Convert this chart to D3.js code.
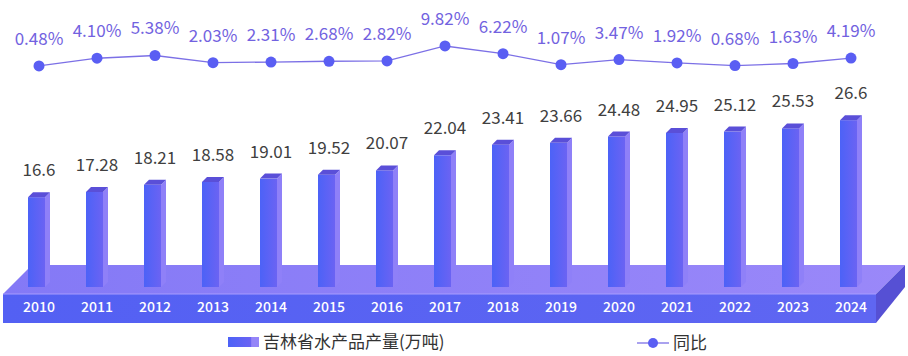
<!DOCTYPE html>
<html><head><meta charset="utf-8">
<script src="https://cdn.jsdelivr.net/npm/d3@7"></script>
<style>
html,body{margin:0;padding:0;background:#fff;}
svg{display:block;font-family:"Noto Sans CJK SC","Noto Sans",sans-serif;}
</style></head>
<body><svg id="c" width="908" height="356"></svg>
<script>
const years = ["2010","2011","2012","2013","2014","2015","2016","2017","2018","2019","2020","2021","2022","2023","2024"];
const output = [16.6,17.28,18.21,18.58,19.01,19.52,20.07,22.04,23.41,23.66,24.48,24.95,25.12,25.53,26.6];
const yoy = [0.48,4.10,5.38,2.03,2.31,2.68,2.82,9.82,6.22,1.07,3.47,1.92,0.68,1.63,4.19];
const seriesNames = ["吉林省水产品产量(万吨)","同比"];

const svg = d3.select("#c");
const defs = svg.append("defs");
const gFront = defs.append("linearGradient").attr("id","gf").attr("x1",0).attr("x2",1).attr("y1",0).attr("y2",0);
gFront.append("stop").attr("offset","0%").attr("stop-color","#4c62f7");
gFront.append("stop").attr("offset","100%").attr("stop-color","#6b63f3");
const gTopP = defs.append("linearGradient").attr("id","gtp").attr("x1",0).attr("x2",1).attr("y1",0).attr("y2",0);
gTopP.append("stop").attr("offset","0%").attr("stop-color","#8479f6");
gTopP.append("stop").attr("offset","100%").attr("stop-color","#9a88f9");
const gFrontP = defs.append("linearGradient").attr("id","gfp").attr("x1",0).attr("x2",1).attr("y1",0).attr("y2",0);
gFrontP.append("stop").attr("offset","0%").attr("stop-color","#5360f3");
gFrontP.append("stop").attr("offset","100%").attr("stop-color","#5f66f2");
const gLeg = defs.append("linearGradient").attr("id","gl").attr("x1",0).attr("x2",1).attr("y1",0).attr("y2",0);
gLeg.append("stop").attr("offset","0%").attr("stop-color","#4c62f7");
gLeg.append("stop").attr("offset","75%").attr("stop-color","#6b63f3");
gLeg.append("stop").attr("offset","76%").attr("stop-color","#9585f8");
gLeg.append("stop").attr("offset","100%").attr("stop-color","#9585f8");

const x = d3.scaleBand().domain(years).range([10, 880]).padding(0);
const bw = x.bandwidth();
const cx = d => x(d) + bw/2;
const y = d3.scaleLinear().domain([0, 30]).range([325, 94]);
const y2 = d3.scaleLinear().domain([0, 10]).range([67, 45.6]);

// platform
const pl = {l:3, r:876, top:294, bot:323, back:265, dx:29};
svg.append("polygon").attr("points",[[pl.l,pl.top],[pl.r,pl.top],[pl.r+pl.dx,pl.back],[pl.l+pl.dx,pl.back]].join(" ")).attr("fill","url(#gtp)");
svg.append("rect").attr("x",pl.l).attr("y",pl.top).attr("width",pl.r-pl.l).attr("height",pl.bot-pl.top).attr("fill","url(#gfp)");
svg.append("polygon").attr("points",[[pl.r,pl.top],[pl.r+pl.dx,pl.back],[pl.r+pl.dx,pl.back+22],[pl.r,pl.bot]].join(" ")).attr("fill","#5650d4");
svg.append("line").attr("x1",pl.l).attr("x2",pl.r).attr("y1",pl.top).attr("y2",pl.top).attr("stroke","#a79cff").attr("stroke-width",1);

// bars
const base = 287, fw = 17, sw = 5, dy = 5;
const bars = svg.append("g").selectAll("g").data(years).join("g");
bars.append("rect").attr("x",d=>cx(d)-11).attr("width",fw)
  .attr("y",(d,i)=>y(output[i])).attr("height",(d,i)=>base - y(output[i])).attr("fill","url(#gf)");
bars.append("polygon").attr("points",(d,i)=>{const L=cx(d)-11+fw, t=y(output[i]);
  return [[L,t],[L+sw,t-dy],[L+sw,base-dy],[L,base]].join(" ");}).attr("fill","#8f80f8");
bars.append("polygon").attr("points",(d,i)=>{const L=cx(d)-11, t=y(output[i]);
  return [[L,t],[L+fw,t],[L+fw+sw,t-dy],[L+sw,t-dy]].join(" ");}).attr("fill","#5a4fd8");
bars.append("text").attr("x",d=>cx(d)).attr("y",(d,i)=>y(output[i])-21)
  .attr("text-anchor","middle").attr("font-size",17).attr("fill","#404040").text((d,i)=>output[i]);

// x axis labels
const xAxis = d3.axisBottom(x).tickSize(0).tickPadding(0);
const ax = svg.append("g").attr("transform","translate(0,302)").call(xAxis);
ax.select(".domain").remove();
ax.selectAll("text").attr("fill","#fff").attr("font-size",14).attr("font-weight",500)
  .attr("font-family","'Noto Sans CJK SC','Noto Sans',sans-serif");

// line
const line = d3.line().x((d,i)=>cx(years[i])).y(d=>y2(d));
svg.append("path").datum(yoy).attr("d",line).attr("fill","none").attr("stroke","#7c70e6").attr("stroke-width",1.3);
svg.append("g").selectAll("circle").data(yoy).join("circle")
  .attr("cx",(d,i)=>cx(years[i])).attr("cy",d=>y2(d)).attr("r",5.5).attr("fill","#5a5ef3");
svg.append("g").selectAll("text").data(yoy).join("text")
  .attr("x",(d,i)=>cx(years[i])).attr("y",d=>y2(d)-21).attr("text-anchor","middle")
  .attr("font-size",17).attr("fill","#7262e0").text(d=>d.toFixed(2)+"%");

// legend
svg.append("rect").attr("x",228).attr("y",337).attr("width",31).attr("height",10).attr("fill","url(#gl)");
svg.append("text").attr("x",263).attr("y",348).attr("font-size",17).attr("fill","#333").text(seriesNames[0]);
svg.append("line").attr("x1",637).attr("x2",669).attr("y1",343).attr("y2",343).attr("stroke","#7c70e6").attr("stroke-width",1.3);
svg.append("circle").attr("cx",653).attr("cy",343).attr("r",5).attr("fill","#5a5ef3");
svg.append("text").attr("x",673).attr("y",349).attr("font-size",17).attr("fill","#333").text(seriesNames[1]);
</script></body></html>
